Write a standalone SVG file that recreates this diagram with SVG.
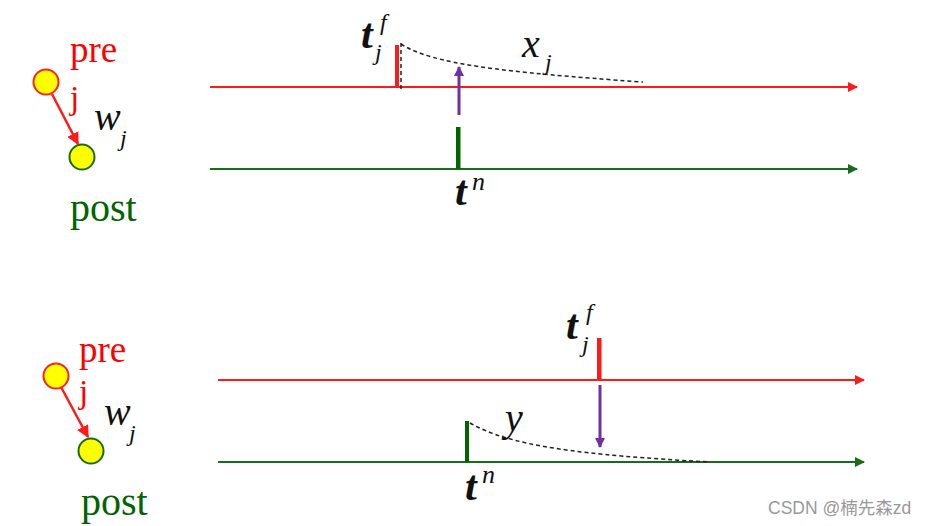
<svg xmlns="http://www.w3.org/2000/svg" width="933" height="526" viewBox="0 0 933 526">
<defs>
<marker id="ar" viewBox="0 0 10 10" refX="9" refY="5" markerWidth="5" markerHeight="5" orient="auto" markerUnits="strokeWidth"><path d="M0,0L10,5L0,10z" fill="#ff1a1a"/></marker>
<marker id="ag" viewBox="0 0 10 10" refX="9" refY="5" markerWidth="5" markerHeight="5" orient="auto" markerUnits="strokeWidth"><path d="M0,0L10,5L0,10z" fill="#1a6b1a"/></marker>
<marker id="ap" viewBox="0 0 10 10" refX="9" refY="5" markerWidth="3.5" markerHeight="3.5" orient="auto" markerUnits="strokeWidth"><path d="M0,0L10,5L0,10z" fill="#7030a0"/></marker>
</defs>
<style>
.txt{font-family:"Liberation Serif","Times New Roman",serif}
.red{fill:#ff0000}.grn{fill:#006400}
.mi{font-family:"Liberation Serif","Times New Roman",serif;font-style:italic;fill:#111}
.tb{font-weight:bold}
.rl{stroke:#ff1a1a;stroke-width:2;fill:none}
.gl{stroke:#1a6b1a;stroke-width:2;fill:none}
.dash{stroke:#222;stroke-width:1.5;stroke-dasharray:4,3;fill:none}
.pre{fill:#ffff00;stroke:#ff2020;stroke-width:2}
.post{fill:#ffff00;stroke:#1a6b1a;stroke-width:2}
.syn{stroke:#ff1a1a;stroke-width:2.5;fill:none}
.pur{stroke:#7030a0;stroke-width:3;fill:none}
</style>
<g id="connectors">
<line class="rl" x1="210" y1="87" x2="857" y2="87" marker-end="url(#ar)"/>
<line class="gl" x1="210" y1="169" x2="857" y2="169" marker-end="url(#ag)"/>
<line class="rl" x1="218" y1="380" x2="864" y2="380" marker-end="url(#ar)"/>
<line class="gl" x1="218" y1="462" x2="864" y2="462" marker-end="url(#ag)"/>
<line class="syn" x1="52" y1="94" x2="78" y2="144" marker-end="url(#ar)"/>
<line class="syn" x1="61" y1="387" x2="88" y2="437" marker-end="url(#ar)"/>
<line class="pur" x1="459" y1="115" x2="459" y2="67" marker-end="url(#ap)"/>
<line class="pur" x1="600" y1="385" x2="600" y2="447" marker-end="url(#ap)"/>
</g>
<g id="pre-top"><circle class="pre" cx="46" cy="82" r="12.5"/><text class="txt red" x="70" y="62" font-size="37">pre</text><text class="txt red" x="70" y="109" font-size="33">j</text></g>
<g id="post-top"><circle class="post" cx="82" cy="157" r="12.5"/><text class="txt grn" x="70" y="221" font-size="40">post</text></g>
<g id="wj-top"><text class="mi" x="94" y="130" font-size="40">w</text><text class="mi" x="120" y="146" font-size="24">j</text></g>
<g id="spike-pre-top"><rect x="395" y="45" width="4" height="42" fill="#ff1a1a"/><line class="dash" x1="401" y1="43" x2="401" y2="90"/><path class="dash" d="M401,44 C432,64 500,72 643,82"/>
<text class="mi tb" x="361" y="48" font-size="42">t</text><text class="mi" x="380" y="30" font-size="24">f</text><text class="mi" x="375" y="60" font-size="24">j</text></g>
<g id="xj"><text class="mi" x="522" y="57" font-size="40">x</text><text class="mi" x="545" y="70" font-size="24">j</text></g>
<g id="spike-post-top"><rect x="456" y="127" width="4.5" height="42" fill="#006400"/><text class="mi tb" x="455" y="205" font-size="42">t</text><text class="mi" x="472" y="190" font-size="26">n</text></g>
<g id="pre-bot"><circle class="pre" cx="56" cy="376" r="12.5"/><text class="txt red" x="79" y="362" font-size="37">pre</text><text class="txt red" x="79" y="403" font-size="33">j</text></g>
<g id="post-bot"><circle class="post" cx="91" cy="451" r="12.5"/><text class="txt grn" x="81" y="515" font-size="40">post</text></g>
<g id="wj-bot"><text class="mi" x="104" y="425" font-size="40">w</text><text class="mi" x="129" y="441" font-size="24">j</text></g>
<g id="spike-pre-bot"><rect x="597" y="338" width="4.5" height="42" fill="#ff1a1a"/><text class="mi tb" x="566" y="339" font-size="42">t</text><text class="mi" x="586" y="320" font-size="24">f</text><text class="mi" x="582" y="352" font-size="24">j</text></g>
<g id="spike-post-bot"><rect x="465" y="421" width="4" height="41" fill="#006400"/><path class="dash" d="M470,423 C510,446 580,455 710,462"/><text class="mi" x="505" y="431" font-size="40">y</text><text class="mi tb" x="465" y="500" font-size="42">t</text><text class="mi" x="482" y="483" font-size="26">n</text></g>
<text x="768" y="514" font-family="'Liberation Sans','Noto Sans CJK SC',sans-serif" font-size="17.5" fill="#999">CSDN @楠先森zd</text>
</svg>
